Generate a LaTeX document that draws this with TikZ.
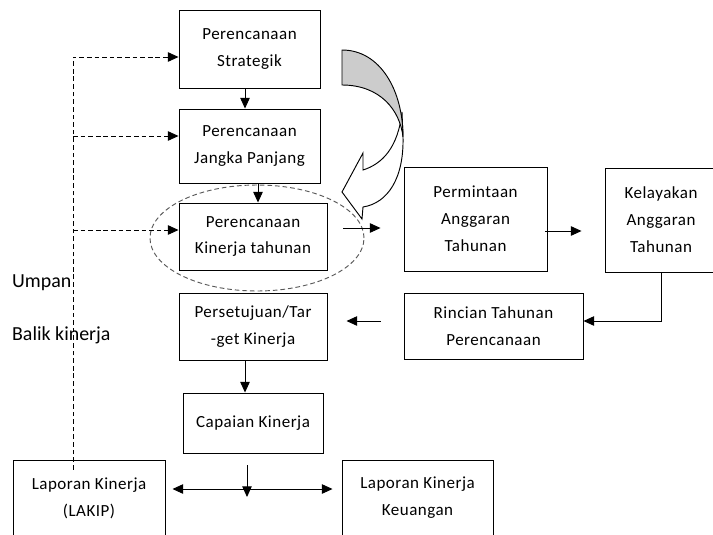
\documentclass[tikz,border=0pt]{standalone}
\usepackage{fontspec}
\setmainfont{Carlito}
\newfontfamily\kotakfont[LetterSpace=3]{Carlito}
\usetikzlibrary{shapes,arrows.meta,positioning,calc}

\begin{document}
\begin{tikzpicture}[x=0.03cm, y=-0.03cm]
    \tikzstyle{kotak} = [rectangle, draw, line width=0.8pt, align=center, font=\kotakfont\fontsize{14.5}{23}\selectfont]
    \tikzstyle{arrow} = [line width=0.8pt, -{Triangle[length=9pt,width=8pt]}]
    \tikzstyle{umpan} = [arrow, dash pattern=on 4pt off 2.5pt]
    \tikzstyle{label} = [font=\fontsize{17}{20}\selectfont, anchor=base west]
    \useasboundingbox (0,0) rectangle (713,534);

    % Simpul
    \node[kotak, minimum width=4.23cm, minimum height=2.34cm] (strat) at (249.5,49) {Perencanaan\\Strategik};
    \node[kotak, minimum width=4.23cm, minimum height=2.22cm] (jangka) at (249.5,146) {Perencanaan\\Jangka Panjang};
    \node[kotak, minimum width=4.44cm, minimum height=2.01cm] (kinerja) at (253,236.5) {Perencanaan\\Kinerja tahunan};
    \node[kotak, minimum width=4.44cm, minimum height=2.01cm] (setuju) at (253,326.5) {Persetujuan/Tar\\-get Kinerja};
    \node[kotak, minimum width=4.20cm, minimum height=1.80cm] (capaian) at (253,423) {Capaian Kinerja};
    \node[kotak, minimum width=4.56cm, minimum height=2.28cm] (lakip) at (89,498) {Laporan Kinerja\\(LAKIP)};
    \node[kotak, minimum width=4.53cm, minimum height=2.28cm] (keuangan) at (417.5,498) {Laporan Kinerja\\Keuangan};
    \node[kotak, minimum width=4.29cm, minimum height=3.12cm] (minta) at (475.5,219) {Permintaan\\Anggaran\\Tahunan};
    \node[kotak, minimum width=3.36cm, minimum height=3.12cm] (layak) at (661,220) {Kelayakan\\Anggaran\\Tahunan};
    \node[kotak, minimum width=5.37cm, minimum height=1.98cm] (rincian) at (493.5,326) {Rincian Tahunan\\Perencanaan};

    \node[label] (umpanteks) at (8,287) {Umpan};
    \node[label] (balikteks) at (8,340) {Balik kinerja};

    % Panah lengkung
    \draw[line width=0.8pt, fill=white] (402,112) -- (403,137) .. controls (404,178) and (388,203) .. (363,207)
        -- (362,219) -- (342,192) -- (363,153) -- (363,170) .. controls (382,164) and (398,148) .. (402,112) -- cycle;
    \draw[line width=0.8pt, fill=black!20] (342,50) .. controls (380,50) and (403,90) .. (403,137)
        .. controls (400,110) and (380,85) .. (342,85) -- cycle;

    \node[ellipse, draw=black!65, line width=0.8pt, dash pattern=on 4pt off 2.5pt,
          minimum width=6.42cm, minimum height=3.18cm] (lingkar) at (257,238) {};

    % Panah
    \draw[arrow] ($(strat.south)+(-4.5,0)$) -- ($(jangka.north)+(-4.5,0)$);
    \draw[arrow] ($(jangka.south)+(8.5,0)$) -- ($(kinerja.north)+(5,0)$);
    \draw[arrow] ($(kinerja.east)+(16,-8.5)$) -- ($(minta.west)+(-23,9)$);
    \draw[arrow] ($(minta.east)+(-2,12)$) -- ($(layak.west)+(-23,11)$);
    \draw[arrow] (layak.south) |- ($(rincian.east)+(0,-5)$);
    \draw[arrow] ($(rincian.west)+(-23,-5)$) -- ($(setuju.east)+(19,-5.5)$);
    \draw[arrow] ($(setuju.south)+(-8,0)$) -- ($(capaian.north)+(-8,0)$);

    \coordinate (cabang) at (247,497);
    \draw[arrow] ($(capaian.south)+(-6,12)$) -- (cabang);
    \draw[arrow, {Triangle[length=9pt,width=8pt]}-{Triangle[length=9pt,width=8pt]}] ($(lakip.east)+(7,-9)$) -- ($(keuangan.west)+(-9,-9)$);

    % Umpan balik
    \coordinate (ujung) at ($(lakip.north)+(-16,10)$);
    \coordinate (masuk1) at ($(strat.west)+(0,8)$);
    \coordinate (masuk2) at ($(jangka.west)+(0,-10)$);
    \coordinate (masuk3) at ($(kinerja.west)+(0,-6.5)$);
    \draw[umpan] (ujung) |- (masuk1);
    \draw[umpan] (ujung |- masuk2) -- (masuk2);
    \draw[umpan] (ujung |- masuk3) -- (masuk3);
\end{tikzpicture}
\end{document}
